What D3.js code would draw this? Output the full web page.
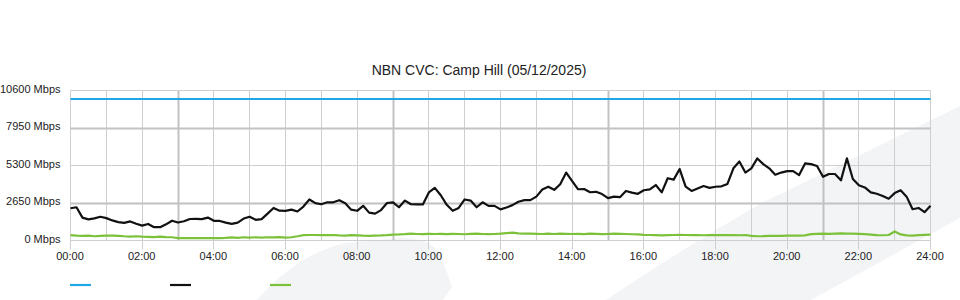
<!DOCTYPE html>
<html>
<head>
<meta charset="utf-8">
<script src="https://cdn.jsdelivr.net/npm/d3@7/dist/d3.min.js"></script>
<style>
  html, body { margin: 0; padding: 0; background: #fff; }
  svg { display: block; font-family: "Liberation Sans", Arial, sans-serif; }
</style>
</head>
<body>
<div id="chart"></div>
<script>
// NBN CVC utilisation, Camp Hill, one sample every 10 minutes
const chartTitle = "NBN CVC: Camp Hill (05/12/2025)";
const sampleMinutes = 10;
const capacityMbps = 10000;

const downloadMbps = [
  2280, 2350, 1620, 1490, 1560, 1680, 1580, 1420, 1300, 1250, 1350, 1180,
  1050, 1170, 940, 940, 1140, 1400, 1270, 1360, 1520, 1530, 1510, 1620,
  1390, 1380, 1260, 1180, 1260, 1550, 1680, 1460, 1510, 1900, 2300, 2110,
  2090, 2180, 2050, 2400, 2900, 2640, 2560, 2700, 2700, 2850, 2630, 2180,
  2100, 2450, 1970, 1900, 2150, 2650, 2700, 2350, 2820, 2560, 2550, 2550,
  3400, 3720, 3200, 2520, 2100, 2300, 2900, 2820, 2350, 2700, 2450, 2450,
  2200, 2330, 2500, 2740, 2850, 2850, 3100, 3600, 3800, 3580, 3980, 4800,
  4200, 3620, 3640, 3410, 3440, 3280, 2990, 3100, 3060, 3500, 3380, 3300,
  3550, 3610, 3920, 3400, 4400, 4300, 5050, 3800, 3500, 3680, 3850, 3720,
  3800, 3830, 4000, 5100, 5580, 4800, 5100, 5800, 5400, 5100, 4650, 4800,
  4900, 4900, 4620, 5450, 5400, 5260, 4500, 4700, 4700, 4250, 5800, 4350,
  3900, 3750, 3400, 3300, 3150, 2950, 3350, 3550, 3100, 2210, 2300, 2000,
  2450
];

const uploadMbps = [
  380, 350, 330, 350, 300, 320,
  340, 340, 330, 300, 280, 300,
  270, 260, 240, 270, 240, 230,
  170, 170, 170, 170, 170, 170, 170, 170, 180,
  220, 190, 230, 210, 230, 200, 230, 220, 240,
  210, 230, 300, 380, 390, 390, 380, 380, 390, 360, 350, 380,
  360, 340, 330, 350, 360, 380,
  420, 430, 450, 480, 460, 450, 470, 460, 470, 450, 470, 460, 440, 470, 480, 460, 450, 460,
  480, 520, 560, 500, 490, 480,
  470, 460, 480, 460, 480, 470, 460, 470, 450, 480, 470, 450, 460, 480, 470, 460, 440, 430,
  400, 390, 380, 360, 380, 390, 400, 390, 380, 390, 370, 380, 390, 380, 390, 380, 370, 390,
  330, 300, 310, 330, 320, 330,
  340, 350, 340, 360, 450, 470,
  480, 470, 490, 500, 490, 480, 470, 450, 420,
  380, 370, 390,
  640, 430, 360, 350, 380, 400, 420
];

const yTicks = [0, 2650, 5300, 7950, 10600];
const yMajor = [2650, 7950];
const hourLines = d3.range(0, 25);
const hourMajor = [3, 9, 15, 21];
const hourLabels = [0, 2, 4, 6, 8, 10, 12, 14, 16, 18, 20, 22, 24];

const seriesColors = ["#1fa7e6", "#111111", "#7cc13a"];

const width = 960;
const height = 300;
const margin = { top: 90.5, right: 29.5, bottom: 59.5, left: 70.5 };

const svg = d3.select("#chart")
  .append("svg")
  .attr("width", width)
  .attr("height", height)
  .attr("viewBox", `0 0 ${width} ${height}`);

// faint background swoosh
const bg = svg.append("g").attr("fill", "#f3f4f6");
bg.append("path")
  .attr("d", "M960,106 L760,204 Q680,250 606,300 L811,300 L960,218 Z");
bg.append("path")
  .attr("d", "M257,300 C285,268 315,250 345,243 L400,238 C425,238 436,246 441,256 L452,287 L443,300 Z");

const x = d3.scaleLinear().domain([0, 24 * 60]).range([margin.left, width - margin.right]);
const y = d3.scaleLinear().domain([0, 10600]).range([height - margin.bottom, margin.top]);
const crisp = (v) => Math.round(v - 0.5) + 0.5;

// grid
const grid = svg.append("g");
grid.selectAll(".vgrid")
  .data(hourLines)
  .enter()
  .append("line")
  .attr("x1", (h) => crisp(x(h * 60)))
  .attr("x2", (h) => crisp(x(h * 60)))
  .attr("y1", y(10600))
  .attr("y2", (h) => hourLabels.includes(h) ? y(0) + 9 : y(0))
  .attr("stroke", (h) => hourMajor.includes(h) ? "#c2c2c2" : "#cfcfcf")
  .attr("stroke-width", (h) => hourMajor.includes(h) ? 2 : 1);

grid.selectAll(".hgrid")
  .data(yTicks)
  .enter()
  .append("line")
  .attr("x1", x(0))
  .attr("x2", x(24 * 60))
  .attr("y1", (v) => crisp(y(v)))
  .attr("y2", (v) => crisp(y(v)))
  .attr("stroke", (v) => yMajor.includes(v) ? "#c2c2c2" : "#cfcfcf")
  .attr("stroke-width", (v) => yMajor.includes(v) ? 2 : 1);

// axes (labels only, grid drawn above)
const xAxis = d3.axisBottom(x)
  .tickValues(hourLabels.map((h) => h * 60))
  .tickSize(0)
  .tickPadding(12)
  .tickFormat((m) => `${String(m / 60).padStart(2, "0")}:00`);

const gx = svg.append("g")
  .attr("transform", `translate(0, ${y(0)})`)
  .call(xAxis);
gx.select(".domain").remove();
gx.selectAll("text")
  .attr("font-size", 11)
  .attr("font-family", "Liberation Sans, Arial, sans-serif")
  .attr("fill", "#222")
  .attr("dx", -1);

const yAxis = d3.axisLeft(y)
  .tickValues(yTicks)
  .tickSize(0)
  .tickPadding(10)
  .tickFormat((v) => `${v} Mbps`);

const gy = svg.append("g")
  .attr("transform", `translate(${margin.left}, 0)`)
  .call(yAxis);
gy.select(".domain").remove();
gy.selectAll("text")
  .attr("font-size", 11)
  .attr("font-family", "Liberation Sans, Arial, sans-serif")
  .attr("fill", "#222")
  .attr("y", -2);

// series
const line = d3.line()
  .x((d, i) => x(i * sampleMinutes))
  .y((d) => y(d));

svg.append("line")
  .attr("x1", x(0))
  .attr("x2", x(24 * 60))
  .attr("y1", y(capacityMbps))
  .attr("y2", y(capacityMbps))
  .attr("stroke", seriesColors[0])
  .attr("stroke-width", 2);

svg.append("path")
  .datum(uploadMbps)
  .attr("fill", "none")
  .attr("stroke", seriesColors[2])
  .attr("stroke-width", 2.2)
  .attr("stroke-linejoin", "round")
  .attr("d", line);

svg.append("path")
  .datum(downloadMbps)
  .attr("fill", "none")
  .attr("stroke", seriesColors[1])
  .attr("stroke-width", 2.2)
  .attr("stroke-linejoin", "round")
  .attr("d", line);

// title
svg.append("text")
  .attr("x", 479)
  .attr("y", 75)
  .attr("text-anchor", "middle")
  .attr("font-size", 14)
  .attr("fill", "#222")
  .text(chartTitle);

// legend swatches (no labels in the source)
const legend = svg.append("g").attr("transform", "translate(70, 285)");
legend.selectAll("line")
  .data(seriesColors)
  .enter()
  .append("line")
  .attr("x1", (d, i) => i * 100)
  .attr("x2", (d, i) => i * 100 + 21)
  .attr("y1", 0)
  .attr("y2", 0)
  .attr("stroke", (d) => d)
  .attr("stroke-width", 2.2);
</script>
</body>
</html>
